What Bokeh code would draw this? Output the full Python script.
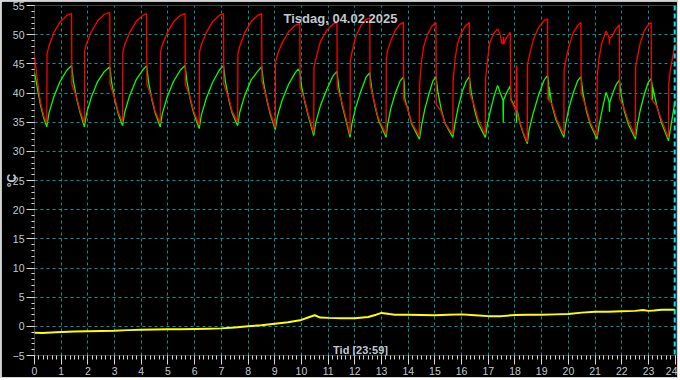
import math
from bokeh.plotting import figure
from bokeh.models import Range1d, FixedTicker, SingleIntervalTicker, Label, Span
from bokeh.embed import file_html
from bokeh.resources import INLINE

# ---------------- data ----------------
title_text = "Tisdag, 04.02.2025"
xlabel_text = "Tid [23:59]"
ylabel_text = "°C"
now_hour = 23.983  # 23:59

grid_hours = [1, 2, 3, 4, 5, 6, 7, 8, 9, 10, 11, 12, 13, 14, 15, 16, 17, 18, 19, 20, 21, 22, 23]
grid_temps = [0, 5, 10, 15, 20, 25, 30, 35, 40, 45, 50]

# flow temperature (red)
red_t = [0.00, 0.10, 0.22, 0.34, 0.46,
         0.47, 0.54, 0.72, 0.96, 1.21, 1.39, 1.40, 1.59, 1.71, 1.87,
         1.88, 1.95, 2.13, 2.37, 2.62, 2.82, 2.83, 3.02, 3.14, 3.30,
         3.31, 3.38, 3.56, 3.80, 4.05, 4.20, 4.21, 4.40, 4.52, 4.71,
         4.72, 4.79, 4.97, 5.21, 5.46, 5.64, 5.65, 5.84, 5.96, 6.17,
         6.18, 6.25, 6.43, 6.67, 6.92, 7.08, 7.09, 7.28, 7.40, 7.61,
         7.62, 7.69, 7.87, 8.11, 8.36, 8.51, 8.52, 8.71, 8.83, 9.02,
         9.03, 9.10, 9.28, 9.52, 9.77, 9.94, 9.95, 10.14, 10.26, 10.46,
         10.47, 10.54, 10.71, 10.94, 11.18, 11.33, 11.34, 11.53, 11.65, 11.82,
         11.83, 11.89, 12.03, 12.22, 12.42, 12.56, 12.57, 12.76, 12.88, 13.17,
         13.18, 13.23, 13.35, 13.52, 13.70, 13.82, 13.83, 14.00, 14.12, 14.42,
         14.43, 14.50, 14.58, 14.72, 14.88, 15.04, 15.05, 15.22, 15.38, 15.67,
         15.68, 15.76, 15.85, 15.98, 16.14, 16.29, 16.30, 16.48, 16.62, 16.89,
         16.90, 16.98, 17.05, 17.20, 17.35, 17.45, 17.50, 17.55, 17.57, 17.58, 17.68, 17.82,
         17.84, 17.95, 18.04, 18.05, 18.07, 18.08, 18.20, 18.33, 18.46,
         18.47, 18.54, 18.69, 18.88, 19.09, 19.22, 19.23, 19.40, 19.56, 19.83,
         19.84, 19.90, 20.02, 20.18, 20.35, 20.47, 20.48, 20.66, 20.82, 21.07,
         21.08, 21.15, 21.25, 21.41, 21.48, 21.53, 21.54, 21.55, 21.65, 21.78, 21.91,
         21.92, 22.08, 22.25, 22.51,
         22.52, 22.58, 22.69, 22.84, 22.99, 23.10, 23.11, 23.30, 23.48, 23.75,
         23.76, 23.82, 23.90, 24.00]
red_v = [46.4, 42.5, 38.5, 36.2, 34.8,
         46.7, 48.0, 50.3, 52.2, 53.3, 53.6, 41.5, 39.1, 36.9, 34.8,
         47.2, 48.5, 50.5, 52.4, 53.5, 53.8, 41.5, 38.9, 36.7, 35.0,
         47.0, 48.3, 50.3, 52.2, 53.3, 53.6, 41.5, 39.1, 36.9, 34.8,
         47.0, 48.3, 50.3, 52.2, 53.3, 53.6, 41.5, 39.1, 36.9, 34.5,
         47.0, 48.3, 50.3, 52.2, 53.3, 53.6, 41.5, 39.1, 36.9, 35.0,
         46.7, 48.0, 50.3, 52.2, 53.3, 53.6, 42.0, 38.9, 36.7, 34.1,
         45.3, 46.6, 48.6, 50.5, 51.6, 51.9, 41.0, 38.5, 36.3, 33.2,
         44.4, 45.8, 48.8, 50.7, 51.8, 52.1, 41.0, 38.2, 36.0, 32.9,
         45.5, 46.9, 49.6, 51.5, 52.6, 52.9, 41.5, 37.9, 35.7, 32.9,
         46.0, 47.3, 49.0, 50.8, 51.8, 52.1, 39.0, 37.0, 35.0, 32.6,
         41.6, 45.5, 48.0, 50.0, 51.4, 52.1, 38.0, 37.0, 34.8, 32.9,
         42.0, 46.0, 48.5, 50.2, 51.5, 52.1, 40.0, 37.8, 35.5, 32.9,
         42.5, 46.0, 48.5, 50.2, 51.0, 50.0, 48.6, 48.4, 49.6, 48.4, 49.5, 50.4,
         38.8, 37.8, 37.0, 44.6, 44.6, 36.5, 34.8, 33.0, 31.6,
         45.0, 46.4, 49.2, 51.2, 52.4, 52.7, 39.0, 38.0, 35.5, 32.9,
         44.0, 45.5, 48.0, 50.3, 51.6, 52.1, 40.0, 37.6, 35.0, 32.6,
         43.0, 46.0, 48.5, 50.6, 50.0, 49.4, 48.3, 49.4, 49.8, 51.0, 51.7,
         39.0, 37.5, 35.2, 32.6,
         44.5, 46.0, 48.5, 50.6, 51.7, 52.1, 39.0, 37.8, 35.5, 32.3,
         41.5, 44.0, 46.0, 48.4]

# return temperature (green)
green_t = [0.00, 0.10, 0.22, 0.34, 0.46,
           0.54, 0.72, 0.96, 1.21, 1.39, 1.46, 1.59, 1.71, 1.87,
           1.95, 2.13, 2.37, 2.62, 2.82, 2.89, 3.02, 3.14, 3.30,
           3.38, 3.56, 3.80, 4.05, 4.20, 4.27, 4.40, 4.52, 4.71,
           4.79, 4.97, 5.21, 5.46, 5.64, 5.71, 5.84, 5.96, 6.17,
           6.25, 6.43, 6.67, 6.92, 7.08, 7.15, 7.28, 7.40, 7.61,
           7.69, 7.87, 8.11, 8.36, 8.51, 8.58, 8.71, 8.83, 9.02,
           9.10, 9.28, 9.52, 9.77, 9.88, 9.94, 10.01, 10.14, 10.26, 10.46,
           10.54, 10.71, 10.94, 11.18, 11.33, 11.40, 11.53, 11.65, 11.82,
           11.89, 12.03, 12.22, 12.42, 12.56, 12.63, 12.76, 12.88, 13.17,
           13.23, 13.35, 13.52, 13.70, 13.82, 13.86, 13.87, 14.00, 14.12, 14.42,
           14.50, 14.62, 14.78, 14.92, 15.04, 15.11, 15.24, 15.38, 15.67,
           15.75, 15.87, 16.02, 16.17, 16.29, 16.36, 16.49, 16.62, 16.89,
           16.97, 17.08, 17.22, 17.35, 17.45, 17.55, 17.56, 17.57, 17.68, 17.82,
           17.84, 17.95, 18.04, 18.06, 18.08, 18.20, 18.33, 18.46,
           18.53, 18.68, 18.88, 19.09, 19.22, 19.26, 19.27, 19.28, 19.38, 19.52, 19.83,
           19.90, 20.02, 20.18, 20.35, 20.47, 20.54, 20.67, 20.82, 21.07,
           21.15, 21.27, 21.41, 21.48, 21.53, 21.54, 21.55, 21.68, 21.80, 21.91,
           21.98, 22.10, 22.25, 22.51,
           22.58, 22.69, 22.84, 22.99, 23.10, 23.14, 23.15, 23.16, 23.30, 23.48, 23.75,
           23.82, 23.90, 24.00]
green_v = [43.5, 41.0, 38.0, 35.8, 34.2,
           36.5, 39.3, 42.0, 43.9, 44.7, 42.0, 38.8, 36.6, 34.2,
           36.5, 39.3, 42.0, 43.7, 44.5, 41.8, 38.6, 36.4, 34.4,
           36.7, 39.5, 42.2, 43.9, 44.7, 42.0, 38.8, 36.6, 34.2,
           36.5, 39.3, 42.0, 43.9, 44.7, 42.0, 38.8, 36.6, 33.9,
           36.2, 39.0, 41.8, 43.9, 44.7, 42.0, 38.8, 36.6, 34.4,
           36.7, 39.5, 42.2, 43.7, 44.5, 41.8, 38.6, 36.4, 33.7,
           36.0, 38.8, 41.5, 43.5, 44.1, 43.6, 41.0, 38.2, 36.0, 32.7,
           35.0, 37.8, 40.5, 42.9, 43.7, 41.0, 37.8, 35.6, 32.4,
           34.7, 37.5, 40.2, 42.7, 43.5, 40.8, 37.6, 35.4, 32.4,
           34.6, 37.4, 40.0, 42.1, 42.7, 41.5, 39.0, 37.0, 34.8, 32.1,
           34.4, 37.2, 39.9, 42.0, 42.8, 40.2, 37.1, 34.8, 32.4,
           34.7, 37.5, 40.2, 42.0, 42.8, 40.1, 37.0, 34.8, 32.4,
           34.7, 37.0, 39.5, 41.3, 40.0, 38.8, 35.0, 38.8, 40.0, 41.2,
           39.0, 38.0, 37.3, 35.0, 37.0, 34.6, 32.8, 31.3,
           33.7, 36.5, 39.6, 42.2, 43.0, 41.8, 38.8, 41.0, 38.0, 35.6, 32.4,
           34.7, 37.4, 40.0, 42.1, 42.8, 40.2, 37.0, 34.6, 32.1,
           34.5, 37.2, 40.1, 39.2, 38.4, 36.8, 38.4, 40.2, 41.5, 42.2,
           39.6, 36.8, 34.6, 32.1,
           34.4, 37.0, 39.7, 41.8, 42.5, 41.3, 38.8, 41.0, 38.0, 35.0, 31.8,
           33.8, 36.0, 38.7]

# outdoor temperature (yellow)
yellow_t = [0.0, 0.3, 0.8, 1.5, 2.0, 2.5, 3.0, 3.5, 4.0, 4.5, 5.0, 5.5, 6.0, 6.5,
            7.0, 7.5, 8.0, 8.5, 9.0, 9.5, 10.0, 10.3, 10.5, 10.7, 11.0, 11.5, 12.0,
            12.5, 12.8, 13.0, 13.3, 13.5, 14.0, 14.5, 15.0, 15.5, 16.0, 16.5, 17.0,
            17.5, 18.0, 18.5, 19.0, 19.5, 20.0, 20.5, 21.0, 21.5, 22.0, 22.5, 22.8,
            23.0, 23.2, 23.5, 24.0]
yellow_v = [-1.1, -1.15, -1.0, -0.9, -0.85, -0.8, -0.75, -0.65, -0.6, -0.55, -0.5, -0.5,
            -0.45, -0.4, -0.35, -0.2, 0.0, 0.2, 0.45, 0.7, 1.1, 1.6, 1.9, 1.5, 1.45,
            1.4, 1.4, 1.6, 2.0, 2.3, 2.1, 2.0, 2.0, 1.95, 1.9, 2.0, 2.05, 1.9, 1.75,
            1.75, 1.95, 2.0, 2.0, 2.05, 2.1, 2.35, 2.5, 2.5, 2.6, 2.65, 2.8, 2.65,
            2.7, 2.85, 2.85]

# ---------------- figure ----------------
LABEL_COLOR = "#c0c8d2"
TICK_COLOR = "#d8d8d8"
GRID_COLOR = "#00979c"

p = figure(width=678, height=378, output_backend="svg", toolbar_location=None,
           x_range=Range1d(0, 24.05), y_range=Range1d(-5, 55),
           min_border_left=33, min_border_right=3, min_border_top=4, min_border_bottom=24,
           background_fill_color="#000000", border_fill_color="#000000",
           outline_line_color=None)
p.styles = {"border": "1px solid #d4d4d4"}

p.xaxis.ticker = SingleIntervalTicker(interval=1, num_minor_ticks=6)
p.yaxis.ticker = SingleIntervalTicker(interval=5, num_minor_ticks=5)
for ax in (p.xaxis, p.yaxis):
    ax.axis_line_color = None
    ax.major_tick_in = 0
    ax.minor_tick_in = 0
    ax.major_tick_line_color = TICK_COLOR
    ax.minor_tick_line_color = TICK_COLOR
    ax.major_label_text_color = LABEL_COLOR
    ax.major_label_text_font = "Liberation Sans"
    ax.major_label_text_font_size = "10.5px"
p.xaxis.major_tick_out = 9
p.xaxis.minor_tick_out = 4
p.xaxis.major_label_standoff = 2
p.yaxis.major_tick_out = 8
p.yaxis.minor_tick_out = 3
p.yaxis.major_label_standoff = 2

p.yaxis.axis_label = ylabel_text
p.yaxis.axis_label_standoff = -9
p.yaxis.axis_label_text_color = LABEL_COLOR
p.yaxis.axis_label_text_font = "Liberation Sans"
p.yaxis.axis_label_text_font_size = "12px"
p.yaxis.axis_label_text_font_style = "bold"

p.xgrid.ticker = FixedTicker(ticks=grid_hours)
p.ygrid.ticker = FixedTicker(ticks=grid_temps)
for g in (p.xgrid, p.ygrid):
    g.grid_line_color = GRID_COLOR
    g.grid_line_dash = "3 3"
    g.grid_line_width = 1

p.line(yellow_t, yellow_v, line_color="#ffff00", line_width=2)
p.line(green_t, green_v, line_color="#00ff00", line_width=1.3)
p.line(red_t, red_v, line_color="#ff0000", line_width=1.3)

p.add_layout(Span(location=now_hour, dimension="height", line_color="#00e8f0",
                  line_width=2, line_dash="5 3"))

p.add_layout(Label(x=306, y=337, x_units="screen", y_units="screen", text=title_text,
                   text_align="center", text_baseline="middle", text_color=LABEL_COLOR,
                   text_font="Liberation Sans", text_font_size="13px", text_font_style="bold"))
p.add_layout(Label(x=326, y=6, x_units="screen", y_units="screen", text=xlabel_text,
                   text_align="center", text_baseline="middle", text_color=LABEL_COLOR,
                   text_font="Liberation Sans", text_font_size="11px", text_font_style="bold"))

open("out.html", "w").write(file_html(p, INLINE))
